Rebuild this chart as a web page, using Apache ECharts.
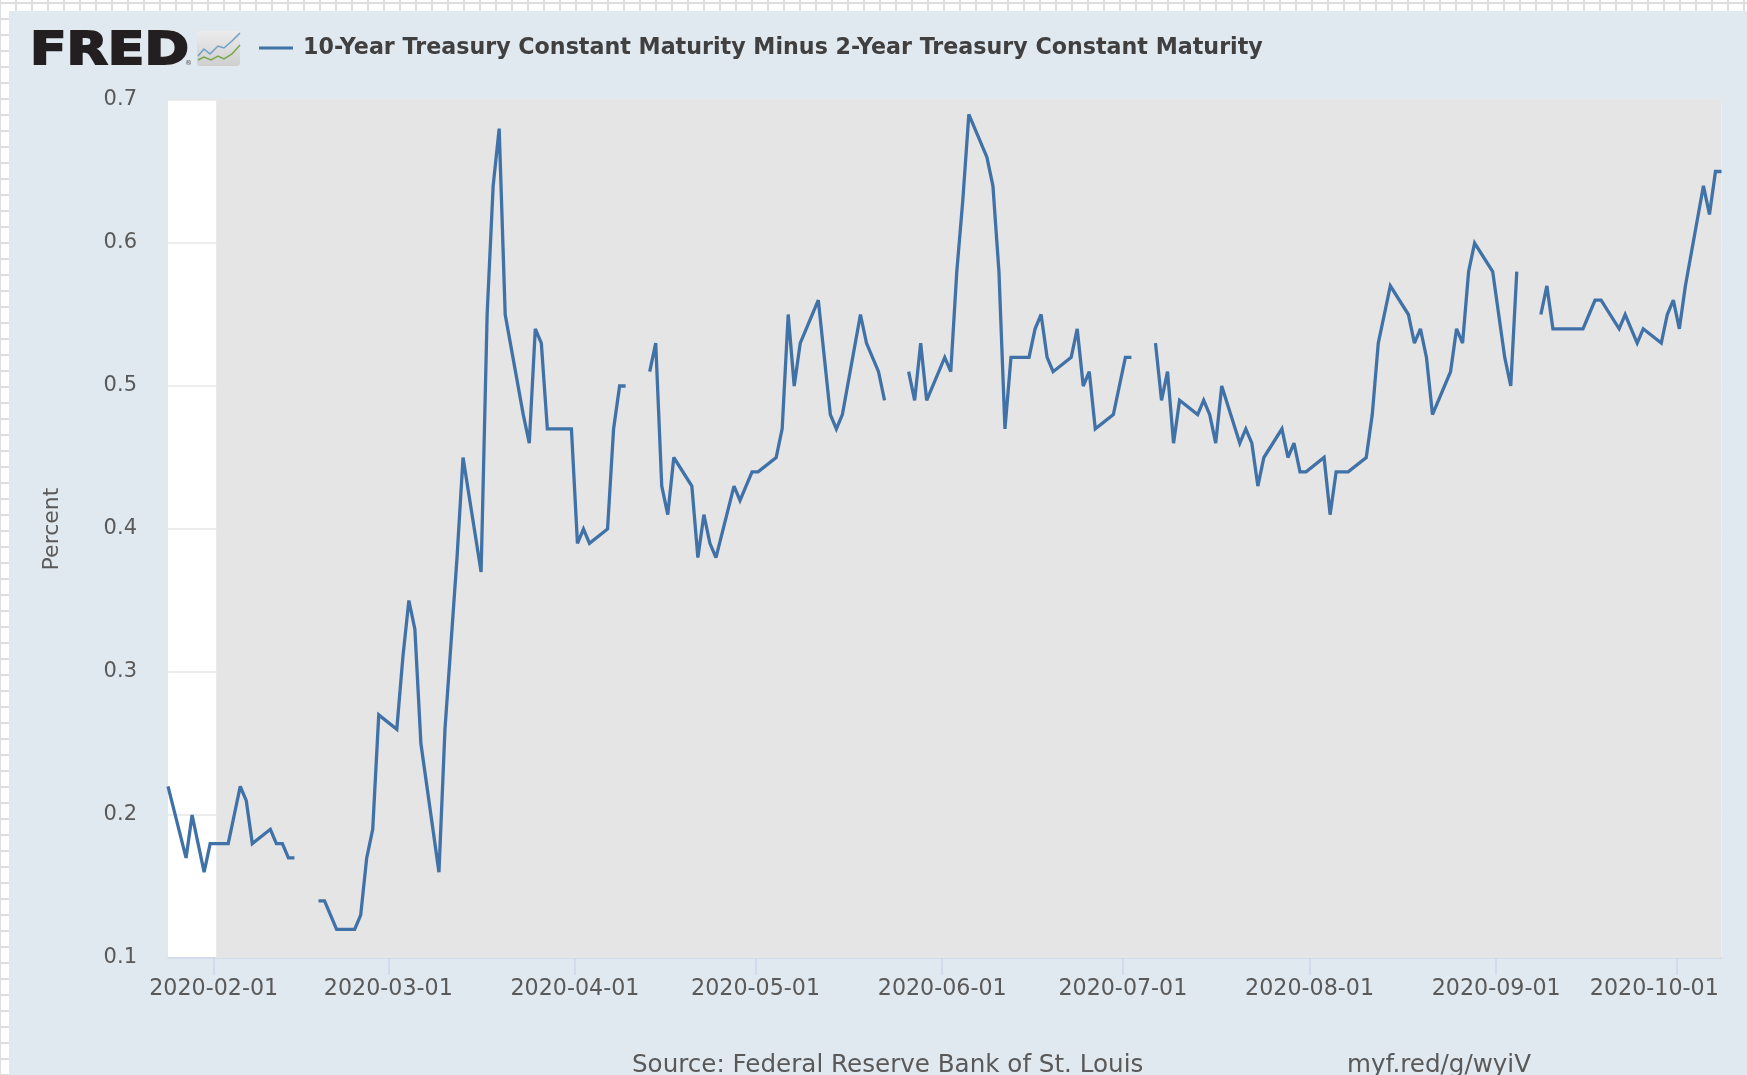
<!DOCTYPE html>
<html>
<head>
<meta charset="utf-8">
<title>FRED</title>
<script src="https://cdn.jsdelivr.net/npm/echarts@6/dist/echarts.min.js"></script>
<style>
  html, body { margin: 0; padding: 0; width: 100%; height: 100%; overflow: hidden; }
  body {
    background-color: #fff;
    background-image:
      linear-gradient(to right, #dedede 2px, transparent 2px),
      linear-gradient(to bottom, #dedede 2px, transparent 2px);
    background-size: 16px 16px;
    background-position: -1px 2px;
  }
  #panel { position: absolute; left: 9px; top: 11px; right: 0; bottom: 0; background: #e1e9f0; }
  #chart { position: absolute; left: 0; top: 0; width: 1747px; height: 1075px; }
</style>
</head>
<body>
<div id="panel"></div>
<div id="chart"></div>
<script>
var seriesName = "10-Year Treasury Constant Maturity Minus 2-Year Treasury Constant Maturity";
var yTicks = { min: 0.1, max: 0.7, step: 0.1 };
var axisStart = "2020-01-24";
var axisEnd = "2020-10-08";
var bandStart = "2020-02-01";
var tickLabels = ["2020-02-01", "2020-03-01", "2020-04-01", "2020-05-01", "2020-06-01", "2020-07-01", "2020-08-01", "2020-09-01", "2020-10-01"];

var janDays = ["01-24", "01-27", "01-28", "01-29", "01-30", "01-31"];
var janValues = [0.22, 0.17, 0.20, 0.18, 0.16, 0.18];
var febDays = ["02-03", "02-04", "02-05", "02-06", "02-07", "02-10", "02-11", "02-12", "02-13", "02-14", "02-17", "02-18", "02-19", "02-20", "02-21", "02-24", "02-25", "02-26", "02-27", "02-28"];
var febValues = [0.18, 0.20, 0.22, 0.21, 0.18, 0.19, 0.18, 0.18, 0.17, 0.17, null, 0.14, 0.14, 0.13, 0.12, 0.12, 0.13, 0.17, 0.19, 0.27];
var marDays = ["03-02", "03-03", "03-04", "03-05", "03-06", "03-09", "03-10", "03-11", "03-12", "03-13", "03-16", "03-17", "03-18", "03-19", "03-20", "03-23", "03-24", "03-25", "03-26", "03-27", "03-30", "03-31"];
var marValues = [0.26, 0.31, 0.35, 0.33, 0.25, 0.16, 0.26, 0.32, 0.38, 0.45, 0.37, 0.55, 0.64, 0.68, 0.55, 0.48, 0.46, 0.54, 0.53, 0.47, 0.47, 0.47];
var aprDays = ["04-01", "04-02", "04-03", "04-06", "04-07", "04-08", "04-09", "04-10", "04-13", "04-14", "04-15", "04-16", "04-17", "04-20", "04-21", "04-22", "04-23", "04-24", "04-27", "04-28", "04-29", "04-30"];
var aprValues = [0.39, 0.40, 0.39, 0.40, 0.47, 0.50, 0.50, null, 0.51, 0.53, 0.43, 0.41, 0.45, 0.43, 0.38, 0.41, 0.39, 0.38, 0.43, 0.42, 0.43, 0.44];
var mayDays = ["05-01", "05-04", "05-05", "05-06", "05-07", "05-08", "05-11", "05-12", "05-13", "05-14", "05-15", "05-18", "05-19", "05-20", "05-21", "05-22", "05-25", "05-26", "05-27", "05-28", "05-29"];
var mayValues = [0.44, 0.45, 0.47, 0.55, 0.50, 0.53, 0.56, 0.52, 0.48, 0.47, 0.48, 0.55, 0.53, 0.52, 0.51, 0.49, null, 0.51, 0.49, 0.53, 0.49];
var junDays = ["06-01", "06-02", "06-03", "06-04", "06-05", "06-08", "06-09", "06-10", "06-11", "06-12", "06-15", "06-16", "06-17", "06-18", "06-19", "06-22", "06-23", "06-24", "06-25", "06-26", "06-29", "06-30"];
var junValues = [0.52, 0.51, 0.58, 0.63, 0.69, 0.66, 0.64, 0.58, 0.47, 0.52, 0.52, 0.54, 0.55, 0.52, 0.51, 0.52, 0.54, 0.50, 0.51, 0.47, 0.48, 0.50];
var julDays = ["07-01", "07-02", "07-03", "07-06", "07-07", "07-08", "07-09", "07-10", "07-13", "07-14", "07-15", "07-16", "07-17", "07-20", "07-21", "07-22", "07-23", "07-24", "07-27", "07-28", "07-29", "07-30", "07-31"];
var julValues = [0.52, 0.52, null, 0.53, 0.49, 0.51, 0.46, 0.49, 0.48, 0.49, 0.48, 0.46, 0.50, 0.46, 0.47, 0.46, 0.43, 0.45, 0.47, 0.45, 0.46, 0.44, 0.44];
var augDays = ["08-03", "08-04", "08-05", "08-06", "08-07", "08-10", "08-11", "08-12", "08-13", "08-14", "08-17", "08-18", "08-19", "08-20", "08-21", "08-24", "08-25", "08-26", "08-27", "08-28", "08-31"];
var augValues = [0.45, 0.41, 0.44, 0.44, 0.44, 0.45, 0.48, 0.53, 0.55, 0.57, 0.55, 0.53, 0.54, 0.52, 0.48, 0.51, 0.54, 0.53, 0.58, 0.60, 0.58];
var sepDays = ["09-01", "09-02", "09-03", "09-04", "09-07", "09-08", "09-09", "09-10", "09-11", "09-14", "09-15", "09-16", "09-17", "09-18", "09-21", "09-22", "09-23", "09-24", "09-25", "09-28", "09-29", "09-30"];
var sepValues = [0.55, 0.52, 0.50, 0.58, null, 0.55, 0.57, 0.54, 0.54, 0.54, 0.54, 0.55, 0.56, 0.56, 0.54, 0.55, 0.54, 0.53, 0.54, 0.53, 0.55, 0.56];
var octDays = ["10-01", "10-02", "10-05", "10-06", "10-07", "10-08"];
var octValues = [0.54, 0.57, 0.64, 0.62, 0.65, 0.65];

var allDays = [].concat(janDays, febDays, marDays, aprDays, mayDays, junDays, julDays, augDays, sepDays, octDays);
var allValues = [].concat(janValues, febValues, marValues, aprValues, mayValues, junValues, julValues, augValues, sepValues, octValues);

function ms(day) {
  return new Date(day + "T00:00:00").getTime();
}
var lineData = allDays.map(function (d, i) {
  return [ms("2020-" + d), allValues[i]];
});
// the ticks sit a little left of the points in the original
var tickShift = 10 * 3600 * 1000;
var tickValues = tickLabels.map(function (d) { return ms(d) - tickShift; });

var chart = echarts.init(document.getElementById("chart"));
var font = "DejaVu Sans";
var options = {
  animation: false,
  backgroundColor: "transparent",
  textStyle: { fontFamily: font },
  legend: {
    show: true,
    left: 254,
    top: 32,
    icon: "rect",
    itemWidth: 34,
    itemHeight: 3,
    textStyle: {
      fontFamily: font,
      fontWeight: "bold",
      fontSize: 22.2,
      color: "#404040",
      padding: [0, 0, 0, 5],
    },
    data: [seriesName],
  },
  grid: {
    left: 168,
    top: 100,
    width: 1553.5,
    height: 858,
    show: true,
    backgroundColor: "#fff",
    borderWidth: 0,
  },
  xAxis: {
    type: "value",
    min: ms(axisStart),
    max: ms(axisEnd),
    axisLine: { lineStyle: { color: "#ccd6eb", width: 1.5 } },
    axisTick: {
      length: 17,
      lineStyle: { color: "#ccd6eb", width: 1.5 },
      customValues: tickValues,
    },
    axisLabel: {
      customValues: tickValues,
      margin: 20,
      fontFamily: font,
      fontSize: 22.2,
      color: "#595959",
      hideOverlap: false,
      showMinLabel: true,
      showMaxLabel: true,
      formatter: function (value) {
        var idx = tickValues.indexOf(value);
        var label = tickLabels[idx];
        return idx === tickLabels.length - 1 ? "{last|" + label + "}" : label;
      },
      rich: {
        last: { fontFamily: font, fontSize: 22.2, color: "#595959", padding: [0, 45, 0, 0] },
      },
    },
    splitLine: { show: false },
  },
  yAxis: {
    type: "value",
    min: yTicks.min,
    max: yTicks.max,
    interval: yTicks.step,
    name: "Percent",
    nameLocation: "middle",
    nameRotate: 90,
    nameGap: 105,
    nameTextStyle: { fontFamily: font, fontSize: 22, color: "#595959" },
    axisLine: { show: false },
    axisTick: { show: false },
    axisLabel: {
      margin: 31,
      fontFamily: font,
      fontSize: 21,
      color: "#595959",
      padding: [2, 0, 0, 0],
      formatter: function (v) { return v.toFixed(1); },
    },
    splitLine: { show: true, lineStyle: { color: "#e6e6e6", width: 1.5 } },
  },
  series: [
    {
      name: seriesName,
      type: "line",
      z: 3,
      data: lineData,
      connectNulls: false,
      showSymbol: false,
      symbol: "none",
      smooth: false,
      lineStyle: { color: "#4072a8", width: 3.3, join: "miter", miterLimit: 3, cap: "butt" },
      itemStyle: { color: "#4072a8" },
      markArea: {
        silent: true,
        itemStyle: { color: "#e5e5e5" },
        data: [[{ xAxis: ms(bandStart) }, { xAxis: ms(axisEnd) }]],
      },
    },
  ],
  graphic: [
    // logo
    {
      type: "text", x: 30, y: 30, scaleX: 1.19,
      style: { text: "FRED", fontFamily: font, fontWeight: "bold", fontSize: 45, fill: "#231f20", stroke: "#231f20", lineWidth: 2 },
    },
    {
      type: "text", left: 185, top: 60,
      style: { text: "®", fontFamily: font, fontSize: 7, fill: "#555" },
    },
    {
      type: "rect", shape: { x: 197, y: 31, width: 43, height: 35, r: 3 },
      style: {
        fill: new echarts.graphic.LinearGradient(0, 0, 0, 1, [
          { offset: 0, color: "#ececec" },
          { offset: 1, color: "#cfcfcf" },
        ]),
      },
    },
    {
      type: "polyline",
      shape: { points: [[198, 56], [204, 49], [210, 54], [218, 46], [224, 48], [232, 41], [240, 33]] },
      style: { stroke: "#6f9fc4", lineWidth: 1.5, fill: "none" },
    },
    {
      type: "polyline",
      shape: { points: [[198, 60], [204, 57], [211, 60], [218, 56], [224, 59], [232, 54], [240, 45]] },
      style: { stroke: "#75a84b", lineWidth: 1.5, fill: "none" },
    },
    // footer
    {
      type: "text", left: 632, top: 1053,
      style: { text: "Source: Federal Reserve Bank of St. Louis", fontFamily: font, fontSize: 24.6, fill: "#595959" },
    },
    {
      type: "text", left: 1347, top: 1053,
      style: { text: "myf.red/g/wyiV", fontFamily: font, fontSize: 24.6, fill: "#595959" },
    },
  ],
};
chart.setOption(options, true);
</script>
</body>
</html>
